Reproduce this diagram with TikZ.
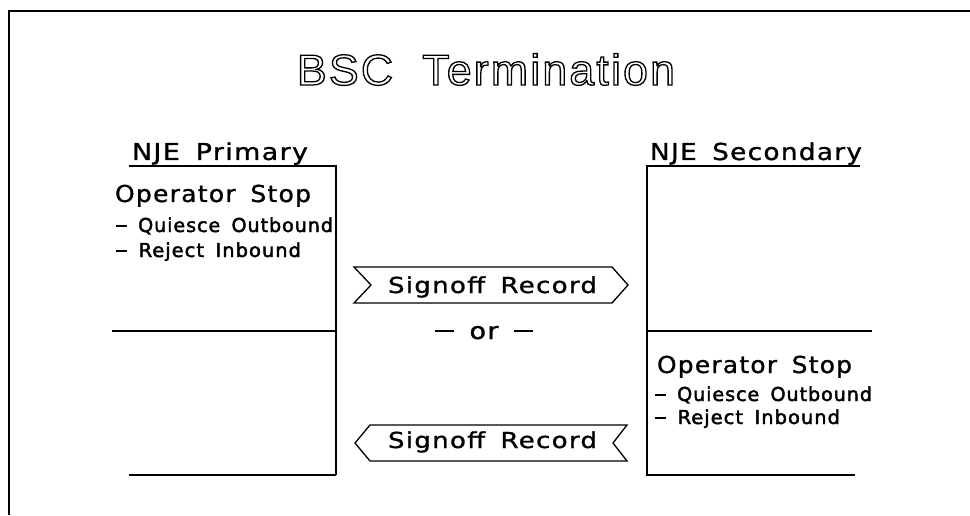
\documentclass[tikz,border=0pt]{standalone}
\usepackage{fontspec}
\usepackage{graphicx}
\setmainfont{DejaVu Sans}[LetterSpace=5.0, WordSpace=1.6, FakeBold=1.0]
\newfontfamily\smallfont{DejaVu Sans}[LetterSpace=5.0, WordSpace=1.6, FakeBold=2.2]
\newfontfamily\titlefont{Liberation Sans}[LetterSpace=5.0]
\newcommand\fitw[2]{\resizebox{#1}{\height}{#2}}
\newcommand\outl[1]{\special{pdf:literal direct 1 Tr 1.3 w}#1\special{pdf:literal direct 0 Tr}}
\newcommand\sdash{\rule[5.5pt]{11pt}{1.8pt}}
\newcommand\bdash{\rule[7pt]{16pt}{2pt}}
\begin{document}
\begin{tikzpicture}[x=1pt,y=1pt,
  lbl/.style={anchor=base west, inner sep=0pt, outer sep=0pt},
  big/.style={lbl, font=\fontsize{23.3}{26}\selectfont},
  small/.style={lbl, font=\smallfont\fontsize{19.2}{22}\selectfont},
  frameline/.style={line width=2.5pt},
  boxline/.style={line width=1.8pt},
  flagline/.style={line width=1.3pt, line join=miter}]
\useasboundingbox (0,0) rectangle (970,515);
% frame
\draw[frameline] (970,504) -- (9,504) -- (9,0);
% title
\node[anchor=base, inner sep=0pt] (title) at (486,430)
  {\titlefont\fontsize{43.3}{48}\selectfont\fitw{378pt}{\outl{BSC\ \ Termination}}};
% primary side
\node[big] (prim) at (132,355) {\fitw{176pt}{NJE Primary}};
\draw[boxline] (129,349) -- (336,349) -- (336,40);
\draw[boxline] (112,184) -- (336,184);
\draw[boxline] (129,40) -- (336,40);
\node[big] (pstop) at (115,313) {\fitw{196pt}{Operator Stop}};
\node[small] (pq) at (116,283) {\fitw{217pt}{\sdash\ Quiesce Outbound}};
\node[small] (pr) at (116,258) {\fitw{185pt}{\sdash\ Reject Inbound}};
% secondary side
\node[big] (sec) at (650,355) {\fitw{212pt}{NJE Secondary}};
\draw[boxline] (860,349) -- (647,349) -- (647,40) -- (855,40);
\draw[boxline] (647,184) -- (872,184);
\node[big] (sstop) at (657,142) {\fitw{195pt}{Operator Stop}};
\node[small] (sq) at (655,114) {\fitw{217pt}{\sdash\ Quiesce Outbound}};
\node[small] (sr) at (655,91) {\fitw{185pt}{\sdash\ Reject Inbound}};
% top flag (to the right)
\draw[flagline] (354,248) -- (612,248) -- (628,230) -- (612,212) -- (354,212) -- (371,230) -- cycle;
\node[big, font=\fontsize{22}{25}\selectfont] (sig1) at (388,222) {\fitw{209pt}{Signoff Record}};
\node[big] (or) at (435,176) {\fitw{98pt}{\bdash\ or \bdash}};
% bottom flag (to the left)
\draw[flagline] (370,90) -- (627,90) -- (613,72) -- (627,54) -- (370,54) -- (355,72) -- cycle;
\node[big, font=\fontsize{22}{25}\selectfont] (sig2) at (388,67) {\fitw{209pt}{Signoff Record}};
\end{tikzpicture}
\end{document}
